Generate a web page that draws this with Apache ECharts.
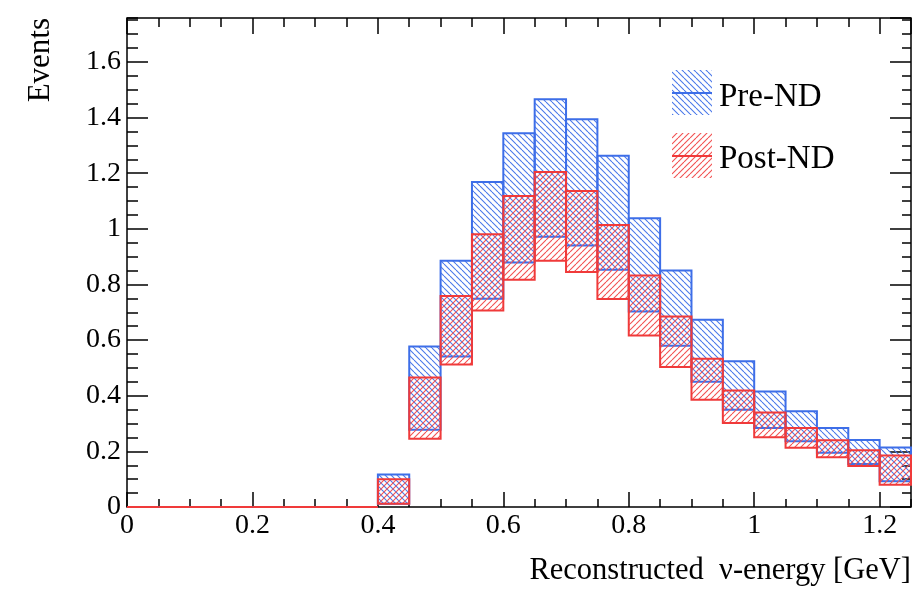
<!DOCTYPE html>
<html>
<head>
<meta charset="utf-8">
<script src="https://cdn.jsdelivr.net/npm/echarts@6/dist/echarts.min.js"></script>
<style>
  html, body { margin: 0; background: #fff; }
  #chart { width: 912px; height: 592px; }
</style>
</head>
<body>
<div id="chart"></div>
<script>
// bin lower edges [GeV], all bins 0.05 wide
const binLow = [0, 0.05, 0.1, 0.15, 0.2, 0.25, 0.3, 0.35, 0.4, 0.45, 0.5, 0.55, 0.6,
  0.65, 0.7, 0.75, 0.8, 0.85, 0.9, 0.95, 1.0, 1.05, 1.1, 1.15, 1.2]
const binWidth = 0.05

// error band edges, Pre-ND
const preLow = [0, 0, 0, 0, 0, 0, 0, 0, 0.012, 0.278, 0.541, 0.749, 0.879,
  0.972, 0.940, 0.853, 0.703, 0.580, 0.450, 0.350, 0.284, 0.236, 0.195, 0.155, 0.093]
const preHigh = [0, 0, 0, 0, 0, 0, 0, 0, 0.117, 0.577, 0.885, 1.168, 1.344,
  1.466, 1.394, 1.263, 1.038, 0.850, 0.673, 0.524, 0.415, 0.344, 0.284, 0.241, 0.214]

// error band edges, Post-ND
const postLow = [0, 0, 0, 0, 0, 0, 0, 0, 0.012, 0.245, 0.512, 0.706, 0.817,
  0.885, 0.845, 0.748, 0.617, 0.503, 0.386, 0.302, 0.251, 0.213, 0.179, 0.147, 0.080]
const postHigh = [0, 0, 0, 0, 0, 0, 0, 0, 0.100, 0.466, 0.759, 0.981, 1.118,
  1.204, 1.136, 1.014, 0.832, 0.685, 0.533, 0.419, 0.340, 0.284, 0.240, 0.204, 0.185]

const FONT = "'Liberation Serif', 'Times New Roman', serif"
const BLUE = '#3d6ee8'
const RED = '#f03a3a'

// diagonal hatch tile, dir 1 = "\\\\", dir -1 = "///"
function hatch(color, dir) {
  const n = 6
  const c = document.createElement('canvas')
  c.width = n
  c.height = n
  const ctx = c.getContext('2d')
  ctx.strokeStyle = color
  ctx.lineWidth = 1.1
  for (const k of [-n, 0, n]) {
    ctx.beginPath()
    if (dir > 0) {
      ctx.moveTo(k, 0)
      ctx.lineTo(k + n, n)
    } else {
      ctx.moveTo(k, n)
      ctx.lineTo(k + n, 0)
    }
    ctx.stroke()
  }
  return { image: c, repeat: 'repeat' }
}

const bluePattern = hatch('#4a78ea', 1)
const redPattern = hatch('#f25050', -1)

function boxes(lo, hi) {
  return binLow.map((x, i) => [x, x + binWidth, lo[i], hi[i]])
}

function boxRenderer(fill, stroke) {
  return function (params, api) {
    const p0 = api.coord([api.value(0), api.value(3)])
    const p1 = api.coord([api.value(1), api.value(2)])
    return {
      type: 'rect',
      shape: { x: p0[0], y: p0[1], width: p1[0] - p0[0], height: p1[1] - p0[1] },
      style: { fill: fill, stroke: stroke, lineWidth: 2 }
    }
  }
}

const tickStyle = { color: '#000', width: 1.5 }

function xAx(position, interval, length, labels) {
  return {
    type: 'value', position, min: 0, max: 1.25, interval,
    axisLine: { show: false, onZero: false },
    axisTick: { inside: true, length, lineStyle: tickStyle },
    axisLabel: labels
      ? { fontFamily: FONT, fontSize: 28, color: '#000', margin: 5, showMaxLabel: false }
      : { show: false },
    splitLine: { show: false }
  }
}

function yAx(position, interval, length, labels) {
  return {
    type: 'value', position, min: 0, max: 1.758, interval,
    axisLine: { show: false, onZero: false },
    axisTick: { inside: true, length, lineStyle: tickStyle },
    axisLabel: labels
      ? { fontFamily: FONT, fontSize: 28, color: '#000', margin: 6, showMaxLabel: false }
      : { show: false },
    splitLine: { show: false }
  }
}

const chart = echarts.init(document.getElementById('chart'))

chart.setOption({
  animation: false,
  backgroundColor: '#fff',
  grid: {
    left: 127, right: 1, top: 18, bottom: 85,
    show: true, borderColor: '#000', borderWidth: 1.5, backgroundColor: 'transparent'
  },
  xAxis: [
    xAx('bottom', 0.2, 15, true),
    xAx('bottom', 0.05, 8, false),
    xAx('top', 0.2, 16, false),
    xAx('top', 0.05, 9, false)
  ],
  yAxis: [
    yAx('left', 0.2, 21, true),
    yAx('left', 0.05, 11, false),
    yAx('right', 0.2, 21, false),
    yAx('right', 0.05, 9, false)
  ],
  series: [
    {
      name: 'Pre-ND', type: 'custom', xAxisIndex: 0, yAxisIndex: 0,
      encode: { x: [0, 1], y: [2, 3] },
      data: boxes(preLow, preHigh),
      renderItem: boxRenderer(bluePattern, BLUE),
      z: 2
    },
    {
      name: 'Post-ND', type: 'custom', xAxisIndex: 0, yAxisIndex: 0,
      encode: { x: [0, 1], y: [2, 3] },
      data: boxes(postLow, postHigh),
      renderItem: boxRenderer(redPattern, RED),
      z: 3
    }
  ],
  graphic: [
    // axis titles
    {
      type: 'text', x: 41, y: 18, rotation: Math.PI / 2,
      style: { text: 'Events', font: '31px ' + FONT, fill: '#000', align: 'right', verticalAlign: 'middle' }
    },
    {
      type: 'text', x: 911, y: 571,
      style: { text: 'Reconstructed  ν-energy [GeV]', font: '30.5px ' + FONT, fill: '#000', align: 'right', verticalAlign: 'middle' }
    },
    // legend
    { type: 'rect', shape: { x: 672, y: 70, width: 40, height: 45 }, style: { fill: bluePattern } },
    { type: 'line', shape: { x1: 672, y1: 93, x2: 712, y2: 93 }, style: { stroke: BLUE, lineWidth: 2 } },
    {
      type: 'text', x: 719, y: 97,
      style: { text: 'Pre-ND', font: '33px ' + FONT, fill: '#000', verticalAlign: 'middle' }
    },
    { type: 'rect', shape: { x: 672, y: 133, width: 40, height: 45 }, style: { fill: redPattern } },
    { type: 'line', shape: { x1: 672, y1: 156, x2: 712, y2: 156 }, style: { stroke: RED, lineWidth: 2 } },
    {
      type: 'text', x: 719, y: 159,
      style: { text: 'Post-ND', font: '33px ' + FONT, fill: '#000', verticalAlign: 'middle' }
    }
  ]
})
</script>
</body>
</html>
